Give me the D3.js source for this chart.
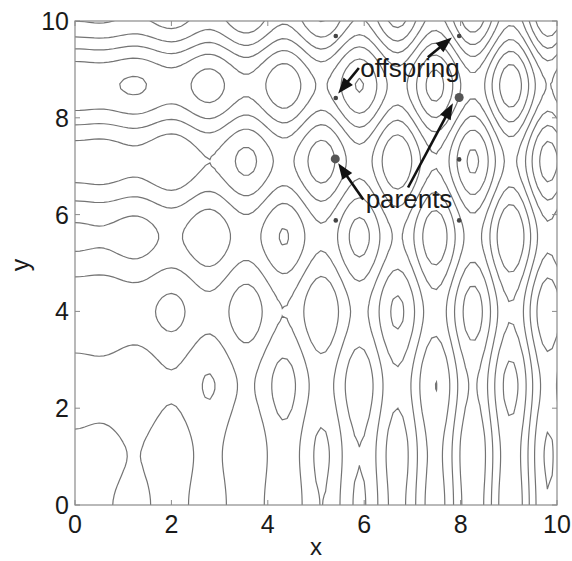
<!DOCTYPE html>
<html>
<head>
<meta charset="utf-8">
<script src="https://d3js.org/d3.v7.min.js"></script>
<style>
  body { margin: 0; background: #fff; }
  text { font-family: "Liberation Sans", Arial, sans-serif; fill: #1a1a1a; }
</style>
</head>
<body>
<div id="chart"></div>
<script>
// axis ticks
var xTicks = [0, 2, 4, 6, 8, 10];
var yTicks = [0, 2, 4, 6, 8, 10];

// contour levels of the cost surface f(x,y) = x sin(4x) + 1.1 y sin(2y)
var levels = [-15, -10, -5, 0, 5, 10, 15];
var xFreq = 4, yFreq = 2, yGain = 1.1;

// population points
var parents = [[5.40, 7.15], [7.97, 8.42]];
var others = [[5.41, 9.69], [5.41, 8.41], [5.41, 5.88], [7.97, 9.69], [7.97, 7.14], [7.97, 5.88]];

// annotations: [from, to] in data units
var offspringArrows = [[[5.89, 9.03], [5.46, 8.50]], [[7.32, 9.25], [7.82, 9.66]]];
var parentArrows = [[[5.98, 6.31], [5.46, 7.06]], [[6.91, 6.56], [7.84, 8.30]]];
var labels = [{text: "offspring", x: 5.92, y: 8.84}, {text: "parents", x: 6.03, y: 6.13}];

var W = 572, H = 561;
var margin = {top: 21, right: 15, bottom: 56, left: 75};
var width = W - margin.left - margin.right,
    height = H - margin.top - margin.bottom;

var svg = d3.select("#chart").append("svg")
    .attr("width", W).attr("height", H);
svg.append("rect").attr("width", W).attr("height", H).attr("fill", "#fff");

var g = svg.append("g")
    .attr("transform", "translate(" + margin.left + "," + margin.top + ")");

var x = d3.scaleLinear().domain([0, 10]).range([0, width]);
var y = d3.scaleLinear().domain([0, 10]).range([height, 0]);

// sample the surface on a grid slightly larger than the plot, then clip
var step = 0.1, g0 = -0.2, n = 105;
var values = new Array(n * n);
for (var j = 0; j < n; j++) {
  for (var i = 0; i < n; i++) {
    var xv = g0 + i * step, yv = g0 + j * step;
    values[i + j * n] = xv * Math.sin(xFreq * xv) + yGain * yv * Math.sin(yFreq * yv);
  }
}

var contours = d3.contours().size([n, n]).thresholds(levels)(values);

var proj = d3.geoTransform({
  point: function(cx, cy) {
    this.stream.point(x(g0 + (cx - 0.5) * step), y(g0 + (cy - 0.5) * step));
  }
});
var path = d3.geoPath(proj);

svg.append("defs").append("clipPath").attr("id", "clip")
  .append("rect").attr("width", width).attr("height", height);

g.append("g").attr("clip-path", "url(#clip)")
  .selectAll("path")
  .data(contours)
  .enter().append("path")
    .attr("d", path)
    .attr("fill", "none")
    .attr("stroke", "#747474")
    .attr("stroke-width", 1.2);

// box + inward ticks on all sides
var tickLen = 5;
var axisColor = "#8a8a8a";
g.append("rect").attr("width", width).attr("height", height)
  .attr("fill", "none").attr("stroke", axisColor).attr("stroke-width", 1.2);

xTicks.forEach(function(t) {
  g.append("line").attr("x1", x(t)).attr("x2", x(t)).attr("y1", height).attr("y2", height - tickLen)
    .attr("stroke", axisColor);
  g.append("line").attr("x1", x(t)).attr("x2", x(t)).attr("y1", 0).attr("y2", tickLen)
    .attr("stroke", axisColor);
  g.append("text").attr("x", x(t)).attr("y", height + 28)
    .attr("text-anchor", "middle").attr("font-size", 25).text(t);
});
yTicks.forEach(function(t) {
  g.append("line").attr("x1", 0).attr("x2", tickLen).attr("y1", y(t)).attr("y2", y(t))
    .attr("stroke", axisColor);
  g.append("line").attr("x1", width).attr("x2", width - tickLen).attr("y1", y(t)).attr("y2", y(t))
    .attr("stroke", axisColor);
  g.append("text").attr("x", -6).attr("y", y(t) + 9)
    .attr("text-anchor", "end").attr("font-size", 25).text(t);
});

// axis titles
g.append("text").attr("x", width / 2).attr("y", height + 50)
  .attr("text-anchor", "middle").attr("font-size", 24).text("x");
g.append("text").attr("transform", "translate(-46," + (height / 2 + 2) + ") rotate(-90)")
  .attr("text-anchor", "middle").attr("font-size", 25).text("y");

// population dots
g.selectAll(".dot").data(others).enter().append("circle")
  .attr("cx", function(d) { return x(d[0]); })
  .attr("cy", function(d) { return y(d[1]); })
  .attr("r", 2.3).attr("fill", "#444");
g.selectAll(".parent").data(parents).enter().append("circle")
  .attr("cx", function(d) { return x(d[0]); })
  .attr("cy", function(d) { return y(d[1]); })
  .attr("r", 4.5).attr("fill", "#555");

// arrows
function arrow(a) {
  var x1 = x(a[0][0]), y1 = y(a[0][1]), x2 = x(a[1][0]), y2 = y(a[1][1]);
  var dx = x2 - x1, dy = y2 - y1, len = Math.sqrt(dx * dx + dy * dy);
  var ux = dx / len, uy = dy / len, hl = 16, hw = 6;
  var bx = x2 - ux * hl, by = y2 - uy * hl;
  g.append("line").attr("x1", x1).attr("y1", y1).attr("x2", bx + ux).attr("y2", by + uy)
    .attr("stroke", "#111").attr("stroke-width", 2.6);
  g.append("path")
    .attr("d", "M" + x2 + "," + y2 +
      "L" + (bx - uy * hw) + "," + (by + ux * hw) +
      "L" + (bx + uy * hw) + "," + (by - ux * hw) + "Z")
    .attr("fill", "#111");
}
offspringArrows.forEach(arrow);
parentArrows.forEach(arrow);

g.selectAll(".lab").data(labels).enter().append("text")
  .attr("x", function(d) { return x(d.x); })
  .attr("y", function(d) { return y(d.y); })
  .attr("font-size", 26)
  .text(function(d) { return d.text; });
</script>
</body>
</html>
